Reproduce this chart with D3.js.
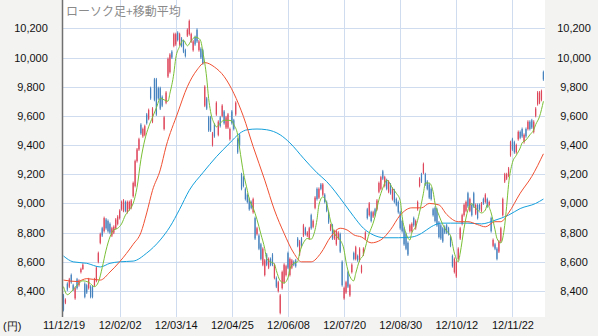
<!DOCTYPE html>
<html>
<head>
<meta charset="utf-8">
<script src="https://d3js.org/d3.v7.min.js"></script>
<style>
  body { margin: 0; background: #f3f3f1; }
  svg { display: block; }
</style>
</head>
<body>
<div id="chart"></div>
<script>
// Date axis: trading-day index of each labelled gridline
var tickDays = [0, 29, 58, 87, 116, 145, 174, 203, 232];
var tickLabels = ["11/12/19", "12/02/02", "12/03/14", "12/04/25", "12/06/08", "12/07/20", "12/08/30", "12/10/12", "12/11/22"];
var priceTicks = [8400, 8600, 8800, 9000, 9200, 9400, 9600, 9800, 10000, 10200];

// Daily candles
var opens = [
  8370,8320,8450,8430,8510,8440,8350,8480,8440,8530,
  8550,8450,8440,8420,8430,8430,8440,8470,8600,8730,
  8830,8810,8890,8880,8860,8780,8800,8830,8860,8900,
  8960,8950,9010,8940,8960,8970,9050,9120,9290,9370,
  9540,9460,9470,9610,9580,9790,9560,9850,9850,9790,
  9790,9730,9510,9690,9870,9900,10040,10080,10090,10170,
  10090,10130,10110,10050,10150,10160,10110,10050,10140,10190,
  10050,10060,10050,9670,9720,9590,9590,9400,9540,9610,
  9470,9590,9600,9630,9520,9520,9440,9630,9570,9610,
  9440,9470,9200,9180,9100,9060,9030,9010,8940,8900,
  8790,8780,8720,8580,8510,8650,8560,8620,8650,8490,
  8490,8400,8250,8420,8460,8510,8660,8510,8560,8600,
  8610,8760,8650,8760,8780,8830,8780,8760,8920,8840,
  8970,9100,9040,9130,9060,9060,9010,8940,8820,8850,
  8760,8720,8760,8790,8600,8350,8390,8530,8370,8530,
  8660,8620,8640,8610,8530,8650,8760,8960,8920,8940,
  8910,8960,8960,9080,9100,9220,9120,9160,9080,9130,
  9030,9090,9030,9010,8940,8880,8830,8790,8730,8810,
  8810,8900,8830,8960,9120,9200,9210,9200,9150,9130,
  9100,8960,8970,8960,8870,8850,8830,8840,8850,8830,
  8770,8640,8530,8500,8620,8760,8860,8920,8950,9070,
  8950,8990,9070,8930,8990,8990,8950,9030,9010,9030,
  8990,8900,8710,8720,8690,8670,8740,8920,9150,9170,
  9190,9330,9440,9420,9350,9440,9490,9510,9420,9510,
  9510,9560,9570,9490,9600,9680,9690,9710,9900
];
var highs = [
  8380,8350,8460,8490,8520,8450,8430,8490,8480,8560,
  8590,8460,8450,8490,8440,8440,8490,8570,8670,8800,
  8840,8910,8900,8890,8870,8840,8850,8900,8920,8960,
  9020,9030,9020,9020,9020,9030,9150,9300,9380,9450,
  9550,9520,9540,9620,9650,9800,9660,9860,9860,9800,
  9800,9740,9600,9770,10000,10030,10050,10170,10170,10180,
  10170,10140,10120,10060,10200,10260,10170,10120,10150,10200,
  10120,10070,10060,9810,9730,9600,9600,9490,9550,9700,
  9570,9600,9680,9640,9600,9620,9520,9640,9580,9700,
  9450,9480,9210,9190,9110,9070,9040,9020,9040,8910,
  8840,8790,8730,8700,8620,8660,8630,8630,8660,8590,
  8500,8470,8380,8540,8590,8580,8670,8630,8620,8610,
  8620,8770,8750,8770,8860,8840,8810,8840,8930,8890,
  9050,9110,9110,9140,9140,9070,9020,8950,8860,8860,
  8820,8820,8810,8800,8610,8430,8470,8540,8450,8590,
  8670,8710,8650,8700,8580,8700,8810,8970,9010,8950,
  8950,8970,9030,9150,9190,9230,9190,9170,9160,9140,
  9110,9100,9040,9020,8950,8890,8840,8800,8740,8860,
  8870,8910,8890,9020,9180,9210,9280,9210,9160,9140,
  9110,8970,8980,8970,8880,8860,8840,8850,8860,8840,
  8780,8650,8630,8610,8700,8840,8930,9000,9020,9080,
  9040,9000,9080,9000,9000,9000,9010,9040,9070,9040,
  9020,8910,8760,8730,8700,8750,8840,9040,9210,9210,
  9250,9430,9450,9430,9410,9500,9500,9520,9480,9520,
  9570,9570,9580,9570,9660,9770,9770,9780,9910
];
var lows = [
  8260,8310,8400,8420,8450,8400,8340,8410,8430,8520,
  8545,8350,8380,8410,8350,8350,8430,8460,8590,8720,
  8770,8800,8820,8800,8790,8770,8790,8820,8850,8890,
  8950,8940,8940,8930,8950,8960,9040,9110,9280,9360,
  9470,9450,9460,9540,9570,9710,9550,9700,9600,9710,
  9640,9660,9500,9680,9860,9890,9990,10070,10080,10110,
  10080,10070,10030,10000,10140,10150,10100,10040,10080,10100,
  10040,9990,9950,9660,9640,9490,9490,9390,9450,9600,
  9460,9520,9590,9540,9510,9510,9430,9540,9500,9600,
  9340,9390,9090,9110,9020,9000,8950,8960,8930,8750,
  8780,8680,8610,8570,8500,8570,8550,8570,8570,8480,
  8420,8390,8240,8410,8450,8500,8550,8500,8550,8570,
  8560,8700,8640,8700,8770,8780,8770,8750,8820,8830,
  8960,9020,9030,9090,9050,9000,8940,8860,8810,8750,
  8750,8710,8750,8660,8430,8340,8380,8420,8360,8520,
  8610,8610,8600,8600,8520,8640,8750,8890,8910,8870,
  8900,8910,8950,9070,9090,9160,9110,9090,9070,9060,
  9020,9000,8980,8930,8820,8800,8710,8680,8640,8800,
  8800,8840,8820,8950,9110,9140,9200,9120,9090,9030,
  9020,8910,8870,8840,8760,8750,8730,8790,8790,8780,
  8700,8560,8520,8490,8610,8750,8850,8910,8940,8970,
  8940,8910,8970,8920,8890,8950,8940,8990,9000,8970,
  8980,8800,8700,8680,8610,8660,8730,8910,9140,9160,
  9180,9320,9360,9340,9340,9430,9440,9450,9410,9450,
  9500,9500,9510,9480,9590,9670,9680,9700,9840
];
var closes = [
  8270,8340,8410,8480,8460,8410,8420,8420,8470,8550,
  8580,8360,8390,8480,8360,8360,8480,8560,8660,8790,
  8780,8900,8830,8810,8800,8830,8840,8890,8910,8950,
  9010,9020,8950,9010,9010,9020,9140,9290,9370,9440,
  9480,9510,9530,9550,9640,9720,9650,9710,9610,9720,
  9650,9670,9590,9760,9990,10020,10000,10160,10160,10120,
  10160,10080,10040,10010,10190,10250,10160,10110,10090,10110,
  10110,10000,9960,9800,9650,9500,9500,9480,9460,9690,
  9560,9530,9670,9550,9590,9610,9510,9550,9510,9690,
  9350,9400,9100,9120,9030,9010,8960,8970,9030,8760,
  8830,8690,8620,8690,8610,8580,8620,8580,8580,8580,
  8430,8460,8370,8530,8580,8570,8560,8620,8610,8580,
  8570,8710,8740,8710,8850,8790,8800,8830,8830,8880,
  9040,9030,9100,9100,9130,9010,8950,8870,8850,8760,
  8810,8810,8800,8670,8440,8420,8460,8430,8440,8580,
  8620,8700,8610,8690,8570,8690,8800,8900,9000,8880,
  8940,8920,9020,9140,9180,9170,9180,9100,9150,9070,
  9100,9010,8990,8940,8830,8810,8720,8690,8650,8850,
  8860,8850,8880,9010,9170,9150,9270,9130,9100,9040,
  9030,8920,8880,8850,8770,8760,8740,8800,8800,8790,
  8710,8570,8620,8600,8690,8830,8920,8990,9010,8980,
  9030,8920,8980,8990,8900,8960,9000,9000,9060,8980,
  9010,8810,8750,8690,8620,8740,8830,9030,9200,9200,
  9240,9420,9370,9350,9400,9490,9450,9460,9470,9460,
  9560,9510,9520,9560,9650,9760,9760,9770,9850
];

// Moving averages as [day, price]
var ma5 = [[0,8430],[2,8375],[5,8410],[7,8440],[10,8470],[13,8460],[16,8430],[18,8460],[20,8560],[22,8680],
  [24,8770],[26,8820],[28,8830],[30,8860],[32,8920],[34,8955],[36,9000],[38,9110],[40,9300],[42,9435],
  [44,9525],[46,9590],[48,9655],[50,9720],[52,9710],[54,9700],[55,9755],[57,9890],[58,9995],[60,10075],
  [62,10120],[64,10080],[66,10115],[68,10140],[70,10130],[71,10110],[72,10040],[74,9860],[75,9720],[76,9630],
  [78,9545],[79,9525],[81,9550],[83,9570],[85,9570],[87,9565],[88,9540],[90,9470],[91,9380],[93,9210],
  [95,9090],[96,9030],[98,8970],[100,8890],[102,8790],[104,8690],[105,8620],[107,8600],[109,8585],[110,8540],
  [112,8470],[114,8455],[116,8490],[117,8550],[119,8590],[121,8600],[122,8660],[124,8730],[126,8760],[128,8755],
  [129,8775],[131,8890],[132,8990],[134,9045],[136,9000],[138,8880],[140,8795],[141,8775],[143,8750],[145,8680],
  [146,8600],[148,8500],[150,8470],[151,8520],[153,8610],[155,8650],[156,8700],[158,8795],[160,8865],[161,8910],
  [163,9025],[165,9105],[167,9160],[168,9150],[170,9105],[172,9070],[174,9020],[175,8910],[177,8795],[179,8750],
  [180,8800],[182,8840],[184,8940],[186,9070],[187,9140],[189,9140],[191,9080],[192,9000],[194,8920],[196,8855],
  [198,8810],[200,8780],[202,8660],[204,8600],[205,8660],[207,8830],[209,8955],[211,9000],[212,8980],[214,8955],
  [216,8935],[218,8955],[219,8990],[221,8935],[223,8820],[224,8760],[226,8730],[228,8850],[229,8980],[230,9130],
  [232,9280],[234,9330],[236,9380],[237,9415],[239,9435],[241,9470],[243,9505],[244,9540],[246,9595],[248,9700]];
var ma25 = [[0,8475],[7,8465],[12,8485],[19,8475],[24,8530],[29,8600],[36,8720],[40,8800],[43,8935],[46,9090],
  [50,9230],[53,9390],[59,9620],[64,9800],[69,9915],[73,9965],[78,9935],[83,9870],[88,9755],[93,9595],
  [98,9390],[104,9160],[109,8955],[114,8795],[119,8660],[123,8600],[128,8600],[133,8660],[138,8770],[143,8830],
  [147,8815],[150,8785],[154,8770],[159,8730],[164,8750],[169,8820],[174,8920],[180,8970],[185,8970],[189,9000],
  [194,8990],[198,8925],[204,8875],[209,8875],[214,8855],[218,8840],[223,8875],[226,8875],[230,8935],[236,9070],
  [242,9185],[248,9340]];
var ma75 = [[0,8640],[5,8600],[12,8590],[19,8565],[24,8590],[29,8600],[36,8605],[43,8660],[50,8750],[55,8840],
  [60,8960],[65,9090],[72,9210],[79,9320],[86,9415],[91,9480],[95,9505],[100,9510],[105,9505],[112,9470],
  [117,9415],[124,9310],[131,9210],[136,9150],[145,9000],[150,8910],[155,8830],[160,8785],[166,8765],[173,8765],
  [180,8770],[185,8795],[190,8840],[195,8865],[200,8865],[209,8865],[216,8860],[223,8885],[230,8920],[236,8965],
  [244,9000],[248,9030]];

var upColor = "#de465a", downColor = "#4682be";

var W = 598, H = 336;
var plot = { left: 63, right: 545, top: 0, bottom: 317 };

var svg = d3.select("#chart")
    .append("svg")
    .attr("width", W)
    .attr("height", H)
    .style("font-family", "'Liberation Sans', Arial, sans-serif");

// Grey frame and white plot area
svg.append("rect").attr("width", W).attr("height", H).attr("fill", "#f3f3f1");
svg.append("rect")
    .attr("x", plot.left).attr("y", plot.top)
    .attr("width", plot.right - plot.left)
    .attr("height", plot.bottom - plot.top)
    .attr("fill", "#ffffff");

var x = d3.scaleLinear().domain([0, 248]).range([63.5, 543.4]);
var y = d3.scaleLinear().domain([8222, 10394]).range([plot.bottom, plot.top]);

// Gridlines
svg.append("g")
    .selectAll("line")
    .data(priceTicks)
    .enter()
    .append("line")
    .attr("x1", plot.left).attr("x2", plot.right)
    .attr("y1", function(d) { return Math.round(y(d)) + 0.5; })
    .attr("y2", function(d) { return Math.round(y(d)) + 0.5; })
    .attr("stroke", "#cfdcef");

svg.append("g")
    .selectAll("line")
    .data(tickDays.slice(1))
    .enter()
    .append("line")
    .attr("x1", function(d) { return Math.round(x(d)) + 0.5; })
    .attr("x2", function(d) { return Math.round(x(d)) + 0.5; })
    .attr("y1", plot.top).attr("y2", plot.bottom)
    .attr("stroke", "#cfdcef");

// Price labels, left and right
[31, 574].forEach(function(cx) {
    var g = svg.append("g")
        .attr("transform", "translate(" + cx + ",0)")
        .call(d3.axisLeft(y).tickValues(priceTicks).tickFormat(d3.format(",")).tickSize(0).tickPadding(0));
    g.select(".domain").remove();
    g.selectAll("text")
        .attr("text-anchor", "middle")
        .attr("x", 0)
        .style("font-size", "11px")
        .style("font-family", "'Liberation Sans', Arial, sans-serif")
        .attr("fill", "#111");
});

// Date labels
var xAxis = svg.append("g")
    .attr("transform", "translate(0," + plot.bottom + ")")
    .call(d3.axisBottom(x).tickValues(tickDays)
        .tickFormat(function(d, i) { return tickLabels[i]; })
        .tickSize(0).tickPadding(4));
xAxis.select(".domain").remove();
xAxis.selectAll("text")
    .style("font-size", "11px")
    .style("font-family", "'Liberation Sans', Arial, sans-serif")
    .attr("fill", "#111");

svg.append("text")
    .attr("x", 3).attr("y", 330)
    .style("font-size", "11px")
    .attr("fill", "#111")
    .text("(円)");

// Candles: thin bars, one pixel apart
var days = d3.range(closes.length);
var candle = svg.append("g")
    .selectAll("g")
    .data(days)
    .enter()
    .append("g")
    .attr("fill", function(d) { return closes[d] >= opens[d] ? upColor : downColor; })
    .attr("stroke", function(d) { return closes[d] >= opens[d] ? upColor : downColor; });

candle.append("line")
    .attr("x1", function(d) { return x(d); })
    .attr("x2", function(d) { return x(d); })
    .attr("y1", function(d) { return y(highs[d]); })
    .attr("y2", function(d) { return y(lows[d]); })
    .attr("stroke-width", 0.9);

candle.append("rect")
    .attr("stroke", "none")
    .attr("x", function(d) { return x(d) - 0.6; })
    .attr("width", 1.2)
    .attr("y", function(d) { return y(Math.max(opens[d], closes[d])); })
    .attr("height", function(d) { return Math.max(1, Math.abs(y(opens[d]) - y(closes[d]))); });

// Moving averages
var maLine = d3.line()
    .x(function(d) { return x(d[0]); })
    .y(function(d) { return y(d[1]); })
    .curve(d3.curveMonotoneX);

[[ma75, "#14a0dc"], [ma25, "#f05032"], [ma5, "#7ac036"]].forEach(function(s) {
    svg.append("path")
        .datum(s[0])
        .attr("d", maLine)
        .attr("fill", "none")
        .attr("stroke", s[1])
        .attr("stroke-width", 1);
});

// Left axis line
svg.append("line")
    .attr("x1", 62.5).attr("x2", 62.5)
    .attr("y1", plot.top).attr("y2", plot.bottom)
    .attr("stroke", "#707070")
    .attr("stroke-width", 1.5);

// Title
svg.append("text")
    .attr("x", 66).attr("y", 16)
    .style("font-family", "'Noto Sans CJK JP', sans-serif")
    .style("font-size", "12px")
    .attr("fill", "#8a8a8a")
    .text("ローソク足+移動平均");
</script>
</body>
</html>
